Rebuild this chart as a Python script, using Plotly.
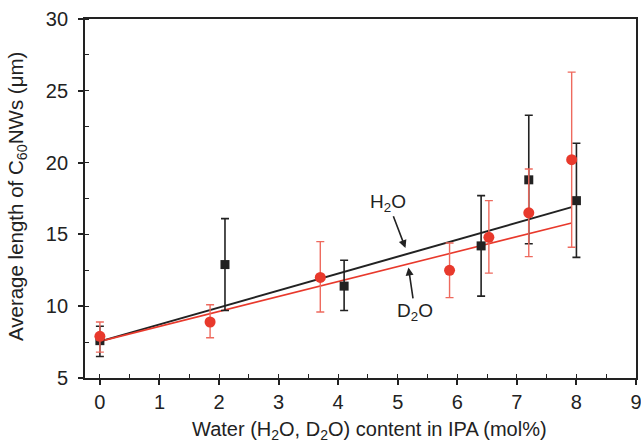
import plotly.graph_objects as go

# H2O (black squares)
h2o_x = [0, 2.1, 4.1, 6.4, 7.2, 8.0]
h2o_y = [7.6, 12.9, 11.4, 14.2, 18.8, 17.35]
h2o_lo = [6.5, 9.7, 9.7, 10.7, 14.35, 13.4]
h2o_hi = [8.6, 16.1, 13.2, 17.7, 23.3, 21.35]

# D2O (red circles)
d2o_x = [0, 1.85, 3.7, 5.87, 6.53, 7.2, 7.92]
d2o_y = [7.9, 8.9, 12.0, 12.5, 14.8, 16.5, 20.2]
d2o_lo = [6.8, 7.8, 9.6, 10.6, 12.3, 13.45, 14.1]
d2o_hi = [8.9, 10.1, 14.5, 14.4, 17.35, 19.55, 26.3]

# linear fits
fit_x = [0, 7.92]
h2o_fit = [7.55, 16.9]
d2o_fit = [7.55, 15.8]

x_title = "Water (H<sub>2</sub>O, D<sub>2</sub>O) content in IPA (mol%)"
y_title = "Average length of C<sub>60</sub>NWs (\u03bcm)"

BLACK = "#222222"
RED = "#e8392c"
RED_LIGHT = "#ee6a5e"

fig = go.Figure()

fig.add_trace(go.Scatter(x=fit_x, y=h2o_fit, mode="lines",
                         line=dict(color=BLACK, width=2), showlegend=False))
fig.add_trace(go.Scatter(x=fit_x, y=d2o_fit, mode="lines",
                         line=dict(color=RED, width=1.6), showlegend=False))

fig.add_trace(go.Scatter(
    x=h2o_x, y=h2o_y, mode="markers",
    marker=dict(symbol="square", size=9, color=BLACK),
    error_y=dict(type="data", symmetric=False,
                 array=[h - y for h, y in zip(h2o_hi, h2o_y)],
                 arrayminus=[y - l for l, y in zip(h2o_lo, h2o_y)],
                 color=BLACK, thickness=1.6, width=4),
    showlegend=False))

fig.add_trace(go.Scatter(
    x=d2o_x, y=d2o_y, mode="markers",
    marker=dict(symbol="circle", size=11, color=RED),
    error_y=dict(type="data", symmetric=False,
                 array=[h - y for h, y in zip(d2o_hi, d2o_y)],
                 arrayminus=[y - l for l, y in zip(d2o_lo, d2o_y)],
                 color=RED_LIGHT, thickness=1.4, width=4),
    showlegend=False))

font_family = "Liberation Sans, Arial, sans-serif"

fig.add_annotation(x=5.13, y=14.05, ax=4.84, ay=17.2, axref="x", ayref="y",
                   text="H<sub>2</sub>O", showarrow=True, arrowhead=2,
                   arrowsize=1, arrowwidth=1.6, arrowcolor=BLACK,
                   font=dict(size=19, color=BLACK, family=font_family))
fig.add_annotation(x=5.18, y=12.7, ax=5.29, ay=9.6, axref="x", ayref="y",
                   text="D<sub>2</sub>O", showarrow=True, arrowhead=2,
                   arrowsize=1, arrowwidth=1.6, arrowcolor=BLACK,
                   font=dict(size=19, color=BLACK, family=font_family))

# axis titles as annotations (placed as in the reference)
fig.add_annotation(xref="paper", yref="paper", x=0.517, y=-0.145,
                   xanchor="center", yanchor="middle", showarrow=False,
                   text=x_title, font=dict(size=20, color=BLACK, family=font_family))
fig.add_annotation(xref="paper", yref="paper", x=-0.1234, y=0.504,
                   xanchor="center", yanchor="middle", showarrow=False, textangle=-90,
                   text=y_title, font=dict(size=20.5, color=BLACK, family=font_family))

axis_common = dict(showline=True, linecolor=BLACK, linewidth=1.8, mirror=True,
                   ticks="outside", ticklen=5, tickwidth=1.5, tickcolor=BLACK,
                   showgrid=False, zeroline=False, automargin=False,
                   ticklabeloverflow="allow",
                   tickfont=dict(size=20, color=BLACK, family=font_family))

fig.update_xaxes(range=[-0.25, 9], tickmode="linear", tick0=0, dtick=1,
                 minor=dict(ticks="inside", dtick=0.5, ticklen=4, tickcolor=BLACK, tickwidth=1.2),
                 **axis_common)
fig.update_yaxes(range=[5, 30], tickmode="linear", tick0=5, dtick=5,
                 ticklabelstandoff=6,
                 minor=dict(ticks="inside", dtick=2.5, ticklen=4, tickcolor=BLACK, tickwidth=1.2),
                 **axis_common)

fig.update_layout(width=641, height=445,
                  margin=dict(l=85, r=5, t=19, b=67, autoexpand=False),
                  paper_bgcolor="white", plot_bgcolor="white",
                  font=dict(family=font_family, color=BLACK))

fig.write_html("out.html", config={"displayModeBar": False},
               post_script="document.body.style.margin='0';document.body.style.overflow='hidden';")
